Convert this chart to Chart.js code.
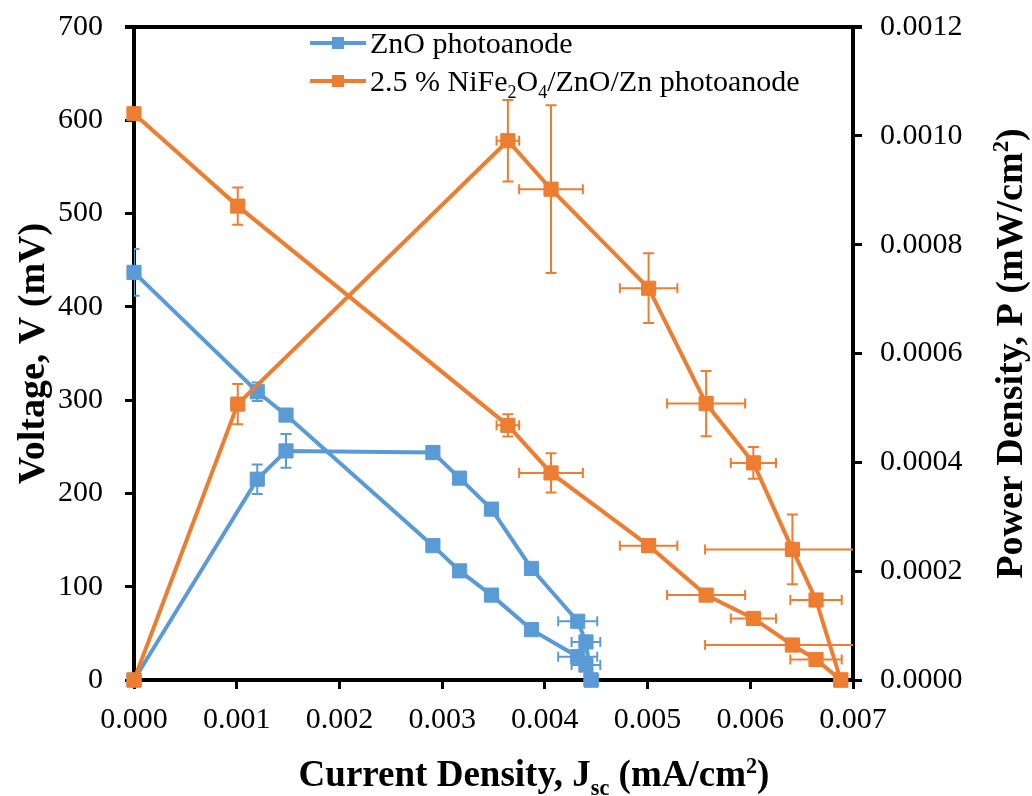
<!DOCTYPE html>
<html>
<head>
<meta charset="utf-8">
<script src="https://cdn.jsdelivr.net/npm/chart.js@4"></script>
<style>
  body { margin: 0; background: #fff; }
  canvas { display: block; }
</style>
</head>
<body>
<canvas id="diagramm" width="1032" height="796"></canvas>
<script>
// ZnO photoanode
const stromZnO = [0, 0.00120, 0.00148, 0.00291, 0.00317, 0.00348, 0.00387, 0.00432, 0.00440, 0.00445];
const spannungZnO = [437, 309, 284, 144, 117, 91, 54, 25, 16, 0];
const leistungZnO = [0, 0.000369, 0.000421, 0.000418, 0.000371, 0.000314, 0.000205, 0.000108, 0.000070, 0];
const fehlerStromZnO = [0, 0, 0, 0, 0, 0, 0, 0.00019, 0.00014, 0];
const fehlerSpannungZnO = [25, 10, 0, 0, 0, 0, 0, 0, 0, 0];
const fehlerLeistungZnO = [0, 0.000027, 0.000031, 0, 0, 0, 0, 0, 0, 0];

// 2.5 % NiFe2O4/ZnO/Zn photoanode
const stromNiFe = [0, 0.00101, 0.00364, 0.00406, 0.00501, 0.00557, 0.00603, 0.00641, 0.00664, 0.00688];
const spannungNiFe = [607, 508, 273, 222, 144, 91, 66, 37.5, 22, 0];
const leistungNiFe = [0, 0.000507, 0.000991, 0.000902, 0.000720, 0.000508, 0.000399, 0.000240, 0.000147, 0];
const fehlerStromNiFe = [0, 0, 0.00011, 0.00031, 0.00028, 0.00038, 0.00022, 0.00085, 0.00025, 0];
const fehlerSpannungNiFe = [0, 20, 12, 21, 0, 0, 0, 0, 0, 0];
const fehlerLeistungNiFe = [0, 0.000037, 0.000075, 0.000154, 0.000064, 0.000060, 0.000029, 0.000064, 0, 0];

const blau = '#5B9BD5';
const orange = '#ED7D31';
const schrift = "'Liberation Serif', 'Times New Roman', serif";

// legend text pieces: [text, 0 normal | 1 sub | 2 sup]
const legendeZnO = [['ZnO photoanode', 0]];
const legendeNiFe = [['2.5 % NiFe', 0], ['2', 1], ['O', 0], ['4', 1], ['/ZnO/Zn photoanode', 0]];
const titelX = [['Current Density, J', 0], ['sc', 1], [' (mA/cm', 0], ['2', 2], [')', 0]];
const titelY = [['Voltage, V (mV)', 0]];
const titelY2 = [['Power Density, P (mW/cm', 0], ['2', 2], [')', 0]];

function punkte(xs, ys) {
  return xs.map((x, i) => ({ x: x, y: ys[i] }));
}

function setzeSchrift(ctx, groesse, fett) {
  ctx.font = (fett ? 'bold ' : '') + groesse + 'px ' + schrift;
}

function breite(ctx, stuecke, groesse, fett) {
  let b = 0;
  stuecke.forEach(s => {
    setzeSchrift(ctx, s[1] ? groesse * 0.6 : groesse, fett);
    b += ctx.measureText(s[0]).width;
  });
  return b;
}

function zeichneText(ctx, stuecke, x, y, groesse, fett) {
  stuecke.forEach(s => {
    const g = s[1] ? groesse * 0.6 : groesse;
    setzeSchrift(ctx, g, fett);
    const dy = s[1] === 1 ? groesse * 0.24 : (s[1] === 2 ? -groesse * 0.36 : 0);
    ctx.fillText(s[0], x, y + dy);
    x += ctx.measureText(s[0]).width;
  });
}

const fehlerGruppen = [
  { j: stromZnO, w: spannungZnO, fj: fehlerStromZnO, fw: fehlerSpannungZnO, achse: 'y', farbe: blau },
  { j: stromZnO, w: leistungZnO, fj: fehlerStromZnO, fw: fehlerLeistungZnO, achse: 'y2', farbe: blau },
  { j: stromNiFe, w: spannungNiFe, fj: fehlerStromNiFe, fw: fehlerSpannungNiFe, achse: 'y', farbe: orange },
  { j: stromNiFe, w: leistungNiFe, fj: fehlerStromNiFe, fw: fehlerLeistungNiFe, achse: 'y2', farbe: orange }
];

const extras = {
  id: 'extras',
  beforeDatasetsDraw(chart) {
    const ctx = chart.ctx;
    const f = chart.chartArea;
    const sx = chart.scales.x;
    ctx.save();
    ctx.beginPath();
    ctx.rect(f.left, f.top - 2, f.right - f.left, f.bottom - f.top + 4);
    ctx.clip();
    ctx.lineWidth = 2;
    fehlerGruppen.forEach(g => {
      const sy = chart.scales[g.achse];
      ctx.strokeStyle = g.farbe;
      g.j.forEach((j, i) => {
        const px = sx.getPixelForValue(j);
        const py = sy.getPixelForValue(g.w[i]);
        ctx.beginPath();
        if (g.fw[i] > 0) {
          const o = sy.getPixelForValue(g.w[i] + g.fw[i]);
          const u = sy.getPixelForValue(g.w[i] - g.fw[i]);
          ctx.moveTo(px, o); ctx.lineTo(px, u);
          ctx.moveTo(px - 5.5, o); ctx.lineTo(px + 5.5, o);
          ctx.moveTo(px - 5.5, u); ctx.lineTo(px + 5.5, u);
        }
        if (g.fj[i] > 0) {
          const l = sx.getPixelForValue(j - g.fj[i]);
          const r = sx.getPixelForValue(j + g.fj[i]);
          ctx.moveTo(l, py); ctx.lineTo(r, py);
          ctx.moveTo(l, py - 5); ctx.lineTo(l, py + 5);
          ctx.moveTo(r, py - 5); ctx.lineTo(r, py + 5);
        }
        ctx.stroke();
      });
    });
    ctx.restore();
  },
  afterDraw(chart) {
    const ctx = chart.ctx;
    const f = chart.chartArea;
    ctx.save();
    // top frame line
    ctx.strokeStyle = '#000';
    ctx.lineWidth = 4;
    ctx.beginPath();
    ctx.moveTo(f.left - 9, f.top);
    ctx.lineTo(f.right + 9, f.top);
    ctx.stroke();

    // legend
    [[legendeZnO, blau, 43], [legendeNiFe, orange, 81]].forEach(e => {
      ctx.strokeStyle = e[1];
      ctx.fillStyle = e[1];
      ctx.lineWidth = 4;
      ctx.beginPath();
      ctx.moveTo(310, e[2]);
      ctx.lineTo(366, e[2]);
      ctx.stroke();
      ctx.fillRect(332, e[2] - 6, 12, 12);
      ctx.fillStyle = '#000';
      ctx.textAlign = 'left';
      ctx.textBaseline = 'alphabetic';
      zeichneText(ctx, e[0], 370, e[2] + 10, 30, false);
    });

    // axis titles
    ctx.fillStyle = '#000';
    const mitte = (f.top + f.bottom) / 2;
    let b = breite(ctx, titelX, 37, true);
    zeichneText(ctx, titelX, 534 - b / 2, 786, 37, true);

    ctx.save();
    ctx.translate(31, mitte);
    ctx.rotate(-Math.PI / 2);
    b = breite(ctx, titelY, 38, true);
    zeichneText(ctx, titelY, -b / 2, 13, 38, true);
    ctx.restore();

    ctx.save();
    ctx.translate(1007, mitte);
    ctx.rotate(-Math.PI / 2);
    b = breite(ctx, titelY2, 38, true);
    zeichneText(ctx, titelY2, -b / 2, 15, 38, true);
    ctx.restore();

    ctx.restore();
  }
};

function serie(label, xs, ys, achse, farbe, reihenfolge) {
  return {
    label: label,
    data: punkte(xs, ys),
    yAxisID: achse,
    borderColor: farbe,
    backgroundColor: farbe,
    borderWidth: 4,
    pointStyle: 'rect',
    pointRadius: 10,
    pointBorderWidth: 1,
    pointBackgroundColor: farbe,
    pointBorderColor: farbe,
    showLine: true,
    tension: 0,
    clip: false,
    order: reihenfolge
  };
}

function achsenStil() {
  return {
    grid: { drawOnChartArea: false, drawTicks: true, tickLength: 9, lineWidth: 3, color: '#000' },
    border: { display: true, color: '#000', width: 4 }
  };
}

function randWeg(s) {
  s.paddingTop = 0;
  s.paddingBottom = 0;
  s.paddingLeft = 0;
  s.paddingRight = 0;
}

Chart.defaults.font.family = schrift;
Chart.defaults.color = '#000';

const diagramm = new Chart(document.getElementById('diagramm').getContext('2d'), {
  type: 'scatter',
  data: {
    datasets: [
      serie('ZnO photoanode', stromZnO, spannungZnO, 'y', blau, 2),
      serie('ZnO photoanode P', stromZnO, leistungZnO, 'y2', blau, 2),
      serie('2.5 % NiFe2O4/ZnO/Zn photoanode', stromNiFe, spannungNiFe, 'y', orange, 1),
      serie('2.5 % NiFe2O4/ZnO/Zn photoanode P', stromNiFe, leistungNiFe, 'y2', orange, 1)
    ]
  },
  options: {
    responsive: false,
    animation: false,
    devicePixelRatio: 1,
    layout: { padding: { top: 27, left: 0, right: 0, bottom: 0 } },
    plugins: {
      legend: { display: false },
      tooltip: { enabled: false }
    },
    scales: {
      x: Object.assign(achsenStil(), {
        type: 'linear', position: 'bottom', min: 0, max: 0.007,
        ticks: { stepSize: 0.001, callback: v => v.toFixed(3), font: { size: 30 }, padding: 13, maxRotation: 0, autoSkip: false },
        afterFit: s => { s.height = 116; randWeg(s); }
      }),
      y: Object.assign(achsenStil(), {
        type: 'linear', position: 'left', min: 0, max: 700,
        ticks: { stepSize: 100, font: { size: 30 }, padding: 22 },
        afterFit: s => { s.width = 134; randWeg(s); }
      }),
      y2: Object.assign(achsenStil(), {
        type: 'linear', position: 'right', min: 0, max: 0.0012,
        ticks: { stepSize: 0.0002, callback: v => v.toFixed(4), font: { size: 30 }, padding: 18 },
        afterFit: s => { s.width = 179; randWeg(s); }
      })
    }
  },
  plugins: [extras]
});
</script>
</body>
</html>
